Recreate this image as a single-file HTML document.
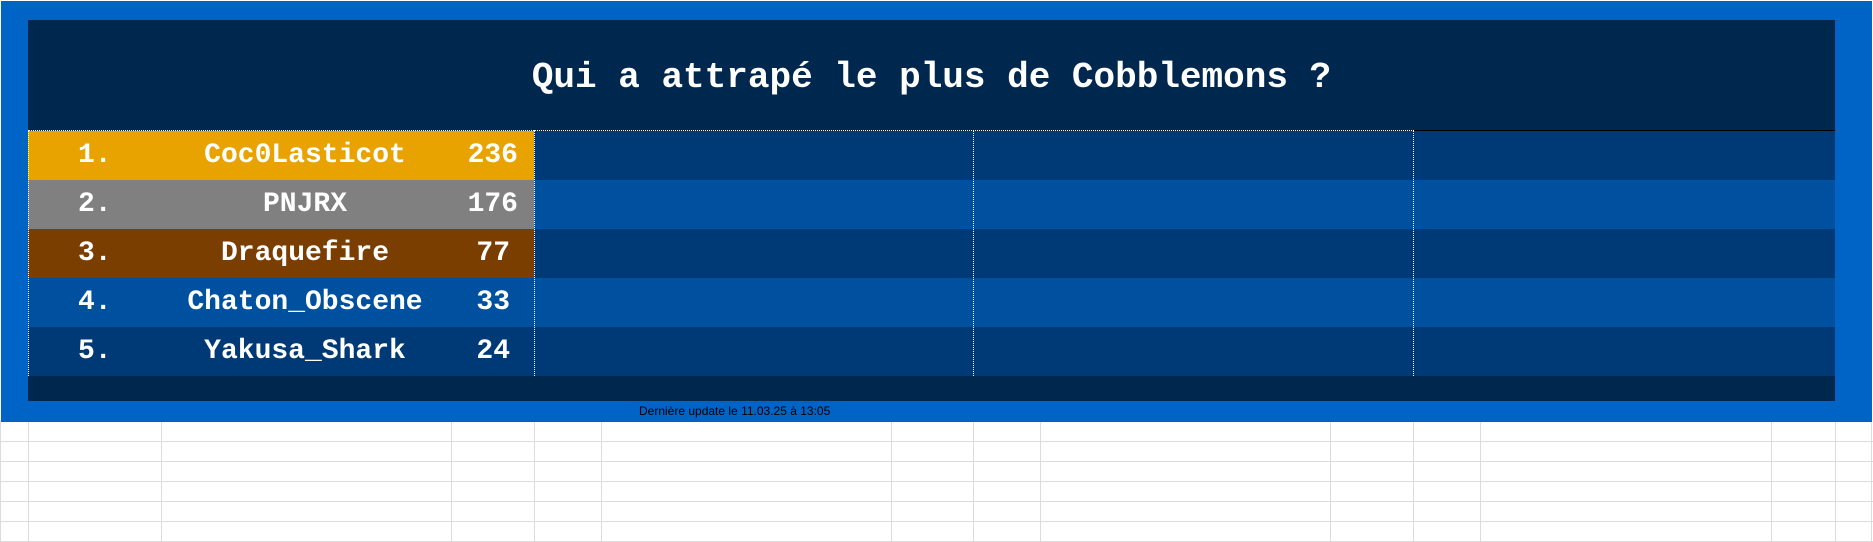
<!DOCTYPE html>
<html><head><meta charset="utf-8"><style>
body{margin:0;width:1873px;height:542px;overflow:hidden;background:#fff;position:relative;font-family:"Liberation Mono",monospace}
div{position:absolute;box-sizing:border-box}
.t{color:#fff;font-weight:bold;font-size:28px;line-height:49px;white-space:pre}
</style></head><body>
<!-- grid -->
<svg style="position:absolute;left:0;top:0" width="1873" height="542">
<g stroke="#dcdcdc" stroke-width="1">
<line x1="0" y1="441.5" x2="1873" y2="441.5"/><line x1="0" y1="461.5" x2="1873" y2="461.5"/>
<line x1="0" y1="481.5" x2="1873" y2="481.5"/><line x1="0" y1="501.5" x2="1873" y2="501.5"/>
<line x1="0" y1="521.5" x2="1873" y2="521.5"/><line x1="0" y1="541.5" x2="1873" y2="541.5"/>
<line x1="0.5" y1="420" x2="0.5" y2="542"/>
<line x1="28.5" y1="420" x2="28.5" y2="542"/><line x1="161.5" y1="420" x2="161.5" y2="542"/>
<line x1="451.5" y1="420" x2="451.5" y2="542"/><line x1="534.5" y1="420" x2="534.5" y2="542"/>
<line x1="601.5" y1="420" x2="601.5" y2="542"/><line x1="891.5" y1="420" x2="891.5" y2="542"/>
<line x1="973.5" y1="420" x2="973.5" y2="542"/><line x1="1040.5" y1="420" x2="1040.5" y2="542"/>
<line x1="1330.5" y1="420" x2="1330.5" y2="542"/><line x1="1413.5" y1="420" x2="1413.5" y2="542"/>
<line x1="1480.5" y1="420" x2="1480.5" y2="542"/><line x1="1771.5" y1="420" x2="1771.5" y2="542"/>
<line x1="1835.5" y1="420" x2="1835.5" y2="542"/><line x1="1871.5" y1="420" x2="1871.5" y2="542"/>
</g></svg>
<div style="left:1px;top:1px;width:1871px;height:421px;background:#0063c6"></div>
<div style="left:28px;top:20px;width:1807px;height:381px;background:#00284f"></div>
<div style="left:28px;top:131px;width:1807px;height:49px;background:#003a76"></div>
<div style="left:28px;top:180px;width:1807px;height:49px;background:#0050a0"></div>
<div style="left:28px;top:229px;width:1807px;height:49px;background:#003a76"></div>
<div style="left:28px;top:278px;width:1807px;height:49px;background:#0050a0"></div>
<div style="left:28px;top:327px;width:1807px;height:49px;background:#003a76"></div>
<div style="left:28px;top:131px;width:506px;height:49px;background:#e8a300"></div>
<div style="left:28px;top:180px;width:506px;height:49px;background:#808080"></div>
<div style="left:28px;top:229px;width:506px;height:49px;background:#7a3e00"></div>
<div style="left:1413px;top:130px;width:422px;height:1px;background:#000"></div>
<div style="left:28px;top:130px;width:1386px;height:246px;border-top:1px dotted #fff;border-left:1px dotted #fff"></div>
<div style="left:534px;top:130px;width:1px;height:246px;border-left:1px dotted #fff"></div>
<div style="left:973px;top:130px;width:1px;height:246px;border-left:1px dotted #fff"></div>
<div style="left:1413px;top:130px;width:1px;height:246px;border-left:1px dotted #fff"></div>
<div class="t" style="left:28px;top:54px;width:1807px;text-align:center;font-size:36px;line-height:48px">Qui a attrapé le plus de Cobblemons ?</div>
<div class="t" style="left:78px;top:131px">1.</div><div class="t" style="left:78px;top:180px">2.</div><div class="t" style="left:78px;top:229px">3.</div><div class="t" style="left:78px;top:278px">4.</div><div class="t" style="left:78px;top:327px">5.</div>
<div class="t" style="left:155px;top:131px;width:300px;text-align:center">Coc0Lasticot</div>
<div class="t" style="left:155px;top:180px;width:300px;text-align:center">PNJRX</div>
<div class="t" style="left:155px;top:229px;width:300px;text-align:center">Draquefire</div>
<div class="t" style="left:155px;top:278px;width:300px;text-align:center">Chaton_Obscene</div>
<div class="t" style="left:155px;top:327px;width:300px;text-align:center">Yakusa_Shark</div>
<div class="t" style="left:440px;top:131px;width:78px;text-align:right">236</div>
<div class="t" style="left:440px;top:180px;width:78px;text-align:right">176</div>
<div class="t" style="left:440px;top:229px;width:70px;text-align:right">77</div>
<div class="t" style="left:440px;top:278px;width:70px;text-align:right">33</div>
<div class="t" style="left:440px;top:327px;width:70px;text-align:right">24</div>
<div style="left:639px;top:404px;font-family:'Liberation Sans',sans-serif;font-size:12px;color:#000;white-space:nowrap">Dernière update le 11.03.25 à 13:05</div>
</body></html>
